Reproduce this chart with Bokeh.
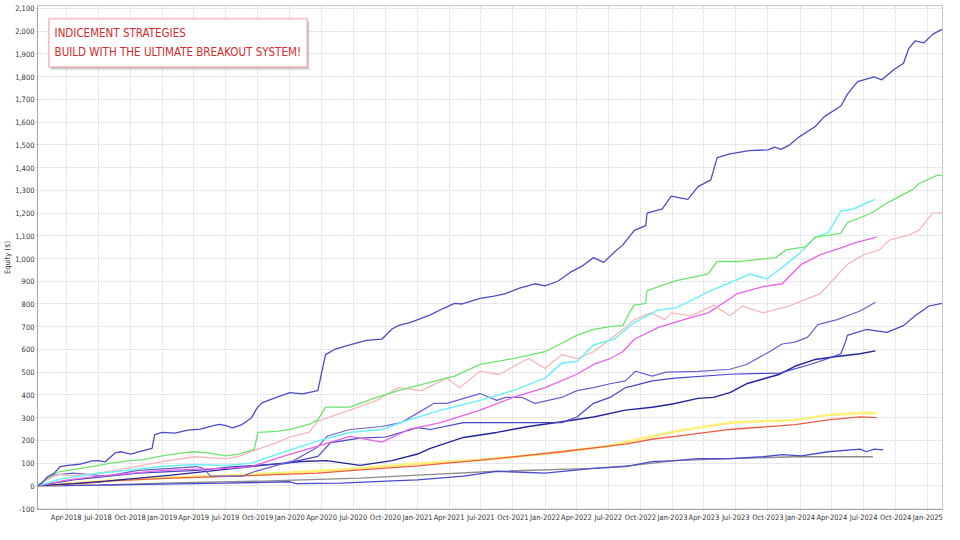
import datetime as dt
import pandas as pd
from bokeh.plotting import figure
from bokeh.models import (Range1d, FixedTicker, NumeralTickFormatter,
                          DatetimeTickFormatter, BoxAnnotation, Label)
from bokeh.embed import file_html
from bokeh.resources import INLINE

# ---------------- data: (decimal year, equity $) ----------------
top_series = [(2018.02, 0), (2018.05, 10), (2018.10, 40), (2018.15, 55), (2018.20, 85), (2018.26, 90),
              (2018.35, 95), (2018.45, 110), (2018.50, 111), (2018.55, 105), (2018.63, 145), (2018.68, 150),
              (2018.75, 140), (2018.85, 155), (2018.92, 165), (2018.94, 225), (2019.00, 235), (2019.10, 232),
              (2019.20, 245), (2019.30, 250), (2019.40, 265), (2019.45, 270), (2019.50, 265), (2019.55, 255),
              (2019.62, 268), (2019.70, 300), (2019.74, 340), (2019.78, 365), (2019.90, 390), (2020.00, 410),
              (2020.10, 405), (2020.22, 419), (2020.25, 500), (2020.28, 577), (2020.35, 600), (2020.47, 620),
              (2020.60, 640), (2020.72, 645), (2020.80, 690), (2020.85, 705), (2020.95, 720), (2021.10, 752),
              (2021.20, 780), (2021.29, 803), (2021.35, 800), (2021.49, 825), (2021.60, 835), (2021.69, 846),
              (2021.80, 870), (2021.92, 889), (2022.00, 880), (2022.10, 900), (2022.20, 940), (2022.30, 970),
              (2022.38, 1004), (2022.46, 983), (2022.54, 1026), (2022.61, 1060), (2022.70, 1124), (2022.79, 1145),
              (2022.80, 1200), (2022.92, 1218), (2022.99, 1274), (2023.12, 1260), (2023.20, 1316), (2023.30, 1346),
              (2023.35, 1444), (2023.45, 1460), (2023.60, 1475), (2023.75, 1478), (2023.80, 1490), (2023.85, 1480),
              (2023.92, 1500), (2023.99, 1534), (2024.12, 1581), (2024.19, 1624), (2024.32, 1671), (2024.37, 1722),
              (2024.45, 1778), (2024.58, 1799), (2024.64, 1786), (2024.73, 1829), (2024.81, 1859), (2024.85, 1923),
              (2024.90, 1957), (2024.97, 1949), (2025.04, 1987), (2025.11, 2008)]

green_series = [(2018.02, 0), (2018.10, 35), (2018.18, 60), (2018.26, 68), (2018.40, 80), (2018.50, 90),
                (2018.60, 100), (2018.75, 111), (2018.85, 115), (2019.00, 132), (2019.15, 145), (2019.25, 150),
                (2019.35, 145), (2019.50, 132), (2019.60, 140), (2019.72, 160), (2019.75, 235), (2019.90, 240),
                (2020.00, 248), (2020.15, 270), (2020.22, 290), (2020.28, 346), (2020.47, 346), (2020.68, 389),
                (2020.85, 419), (2021.08, 453), (2021.29, 483), (2021.49, 534), (2021.75, 560), (2022.00, 590),
                (2022.25, 662), (2022.38, 688), (2022.51, 700), (2022.61, 705), (2022.66, 760), (2022.70, 795),
                (2022.79, 803), (2022.80, 859), (2023.02, 902), (2023.28, 932), (2023.35, 987), (2023.53, 987),
                (2023.81, 1004), (2023.89, 1038), (2024.04, 1051), (2024.12, 1094), (2024.32, 1111), (2024.37, 1158),
                (2024.55, 1197), (2024.68, 1244), (2024.88, 1303), (2024.93, 1329), (2025.08, 1368), (2025.11, 1365)]

pink_series = [(2018.02, 0), (2018.10, 30), (2018.18, 50), (2018.30, 45), (2018.50, 56), (2018.75, 80),
               (2019.00, 107), (2019.25, 128), (2019.50, 120), (2019.60, 130), (2019.75, 162), (2019.90, 190),
               (2020.00, 215), (2020.15, 235), (2020.22, 285), (2020.47, 333), (2020.68, 376), (2020.85, 432),
               (2021.03, 419), (2021.23, 474), (2021.33, 432), (2021.49, 504), (2021.64, 491), (2021.87, 560),
               (2022.00, 517), (2022.13, 577), (2022.25, 560), (2022.38, 590), (2022.51, 645), (2022.61, 688),
               (2022.70, 731), (2022.83, 761), (2022.94, 731), (2022.99, 761), (2023.15, 748), (2023.32, 795),
               (2023.45, 748), (2023.55, 791), (2023.71, 761), (2023.91, 791), (2024.16, 846), (2024.37, 974),
               (2024.50, 1017), (2024.62, 1038), (2024.70, 1081), (2024.85, 1103), (2024.93, 1124), (2025.04, 1201),
               (2025.11, 1201)]

cyan_series = [(2018.02, 0), (2018.20, 30), (2018.50, 55), (2018.75, 70), (2019.00, 85), (2019.25, 94),
               (2019.50, 90), (2019.70, 100), (2019.96, 150), (2020.22, 198), (2020.47, 235), (2020.72, 248),
               (2020.93, 290), (2021.18, 333), (2021.49, 376), (2021.75, 419), (2022.00, 474), (2022.13, 540),
               (2022.25, 547), (2022.38, 620), (2022.54, 645), (2022.70, 718), (2022.89, 774), (2023.02, 782),
               (2023.15, 816), (2023.30, 859), (2023.43, 889), (2023.61, 932), (2023.74, 910), (2023.89, 974),
               (2024.01, 1030), (2024.12, 1094), (2024.22, 1115), (2024.32, 1209), (2024.42, 1218), (2024.52, 1244),
               (2024.59, 1260)]

magenta_series = [(2018.02, 0), (2018.25, 25), (2018.50, 43), (2018.75, 55), (2019.00, 68), (2019.50, 77),
                  (2019.70, 85), (2019.96, 132), (2020.22, 175), (2020.47, 218), (2020.72, 192), (2020.93, 248),
                  (2021.18, 278), (2021.49, 333), (2021.75, 389), (2022.00, 432), (2022.25, 491), (2022.38, 534),
                  (2022.51, 560), (2022.61, 590), (2022.70, 645), (2022.89, 697), (2023.09, 731), (2023.28, 761),
                  (2023.51, 846), (2023.71, 876), (2023.86, 889), (2024.01, 974), (2024.16, 1017), (2024.32, 1047),
                  (2024.42, 1068), (2024.60, 1094)]

slate_series = [(2018.02, 0), (2018.15, 47), (2018.30, 56), (2018.56, 43), (2018.81, 68), (2019.07, 77),
                (2019.27, 85), (2019.32, 77), (2019.38, 43), (2019.63, 43), (2019.73, 64), (2020.03, 111),
                (2020.22, 171), (2020.29, 218), (2020.47, 248), (2020.72, 261), (2020.87, 278), (2021.00, 320),
                (2021.13, 363), (2021.23, 363), (2021.49, 406), (2021.62, 376), (2021.69, 389), (2021.82, 389),
                (2021.92, 363), (2022.13, 389), (2022.25, 419), (2022.38, 432), (2022.51, 449), (2022.63, 462),
                (2022.71, 504), (2022.84, 483), (2022.95, 500), (2023.20, 504), (2023.45, 513), (2023.58, 534),
                (2023.76, 590), (2023.86, 624), (2023.96, 632), (2024.06, 654), (2024.14, 709), (2024.29, 731),
                (2024.47, 769), (2024.59, 808)]

blue_series = [(2018.02, 0), (2018.30, 26), (2018.81, 56), (2019.27, 68), (2019.57, 85), (2019.96, 98),
               (2020.22, 130), (2020.32, 190), (2020.55, 210), (2020.75, 215), (2021.00, 256), (2021.10, 248),
               (2021.36, 278), (2021.62, 278), (2021.87, 278), (2022.13, 278), (2022.25, 303), (2022.38, 363),
               (2022.51, 389), (2022.63, 432), (2022.69, 440), (2022.84, 462), (2023.02, 474), (2023.45, 491),
               (2023.84, 496), (2024.08, 534), (2024.22, 560), (2024.32, 581), (2024.36, 640), (2024.37, 662),
               (2024.52, 688), (2024.68, 675), (2024.81, 705), (2024.90, 748), (2025.01, 791), (2025.11, 803)]

navy_series = [(2018.02, 0), (2018.30, 10), (2018.56, 21), (2019.07, 47), (2019.57, 77), (2019.78, 90),
               (2020.09, 107), (2020.29, 111), (2020.55, 90), (2020.80, 111), (2021.00, 140), (2021.10, 165),
               (2021.36, 213), (2021.62, 235), (2021.87, 261), (2022.13, 282), (2022.38, 303), (2022.63, 333),
               (2022.84, 346), (2023.00, 360), (2023.20, 385), (2023.32, 389), (2023.45, 410), (2023.58, 449),
               (2023.71, 470), (2023.84, 491), (2023.96, 526), (2024.12, 556), (2024.27, 568), (2024.47, 581),
               (2024.59, 594)]

yellow_series = [(2018.02, 0), (2018.50, 20), (2019.00, 35), (2019.50, 45), (2020.00, 58), (2020.50, 75),
                 (2021.00, 98), (2021.50, 115), (2022.00, 140), (2022.50, 175), (2022.69, 200), (2023.02, 239),
                 (2023.45, 278), (2023.96, 290), (2024.22, 312), (2024.47, 320), (2024.60, 320)]

orange_series = [(2018.02, 0), (2018.50, 15), (2018.56, 21), (2019.07, 34), (2019.57, 43), (2020.22, 56),
                 (2020.50, 68), (2021.00, 88), (2021.62, 120), (2022.13, 150), (2022.63, 184), (2022.84, 205),
                 (2023.02, 218), (2023.45, 248), (2023.96, 269), (2024.22, 290), (2024.47, 303), (2024.60, 300)]

gray_series = [(2018.02, 0), (2018.56, 4), (2019.07, 13), (2019.78, 21), (2020.55, 34), (2021.00, 47),
               (2021.62, 64), (2022.38, 77), (2022.69, 90), (2023.02, 111), (2023.45, 120), (2023.96, 128),
               (2024.57, 128)]

lowblue_series = [(2018.02, 0), (2018.50, 3), (2019.00, 8), (2019.50, 12), (2020.00, 18), (2020.05, 10),
                  (2020.40, 12), (2020.80, 22), (2021.00, 26), (2021.36, 43), (2021.62, 64), (2022.00, 56),
                  (2022.38, 77), (2022.63, 85), (2022.84, 107), (2023.02, 111), (2023.20, 120), (2023.45, 120),
                  (2023.71, 128), (2023.86, 137), (2024.01, 132), (2024.22, 150), (2024.47, 162), (2024.52, 150),
                  (2024.58, 162), (2024.65, 158)]

x_ticks = list(pd.date_range("2018-04-01", "2025-01-01", freq="QS"))
y_ticks = list(range(-100, 2101, 100))

title_lines = ["INDICEMENT STRATEGIES", "BUILD WITH THE ULTIMATE BREAKOUT SYSTEM!"]
y_axis_title = "Equity ($)"

FONT = "DejaVu Sans Condensed, Liberation Sans, sans-serif"


def to_dt(t):
    y = int(t)
    a = dt.datetime(y, 1, 1)
    b = dt.datetime(y + 1, 1, 1)
    return a + (b - a) * (t - y)


def ms(t):
    return (to_dt(t) - dt.datetime(1970, 1, 1)).total_seconds() * 1000.0


p = figure(width=944, height=524, x_axis_type="datetime", output_backend="svg",
           toolbar_location=None,
           x_range=Range1d(ms(2018.021), ms(2025.115)), y_range=Range1d(-104, 2113),
           min_border_left=28, min_border_right=2, min_border_top=5, min_border_bottom=2)

p.background_fill_color = "white"
p.border_fill_color = "white"
p.outline_line_color = "#c8c8c8"

p.xaxis.ticker = FixedTicker(ticks=[(d - pd.Timestamp("1970-01-01")).total_seconds() * 1000 for d in x_ticks])
p.xaxis.formatter = DatetimeTickFormatter(days="%b-%Y", months="%b-%Y", years="%b-%Y")
p.yaxis.ticker = FixedTicker(ticks=y_ticks)
p.yaxis.formatter = NumeralTickFormatter(format="0,0")
p.yaxis.axis_label = y_axis_title

for ax in (p.xaxis, p.yaxis):
    ax.major_label_text_font = FONT
    ax.major_label_text_font_size = "7.5px"
    ax.major_label_text_color = "#333333"
    ax.axis_line_color = "#a8a8a8"
    ax.major_tick_line_color = "#a8a8a8"
    ax.major_tick_out = 1
    ax.major_tick_in = 0
    ax.minor_tick_line_color = None
    ax.major_label_standoff = 2
p.yaxis.axis_label_text_font = FONT
p.yaxis.axis_label_text_font_size = "7.5px"
p.yaxis.axis_label_text_font_style = "normal"
p.yaxis.axis_label_text_color = "#333333"
p.yaxis.axis_label_standoff = 0

p.xgrid.ticker = p.xaxis.ticker
p.ygrid.ticker = p.yaxis.ticker
for g in (p.xgrid, p.ygrid):
    g.grid_line_color = "#dcdce8"
    g.grid_line_dash = "2 1"
    g.grid_line_width = 1

styles = [
    (gray_series, "#8c8c8c", 1.4),
    (lowblue_series, "#4a4ad0", 1.3),
    (yellow_series, "#fff07a", 2.6),
    (orange_series, "#ee5c44", 1.3),
    (navy_series, "#24249e", 1.4),
    (blue_series, "#4646c8", 1.2),
    (slate_series, "#6a62d2", 1.2),
    (magenta_series, "#ea62ea", 1.3),
    (pink_series, "#f6b8b8", 1.3),
    (cyan_series, "#6ef0f6", 1.5),
    (green_series, "#6ee46e", 1.3),
    (top_series, "#4c4cc8", 1.3),
]
for series, color, w in styles:
    xs = [to_dt(t) for t, _ in series]
    ys = [v for _, v in series]
    p.line(xs, ys, line_color=color, line_width=w)

# title box
p.add_layout(BoxAnnotation(left=ms(2018.125), right=ms(2020.152), bottom=1830, top=2043,
                           fill_color="#a0a0a0", fill_alpha=0.45, line_alpha=0))
p.add_layout(BoxAnnotation(left=ms(2018.11), right=ms(2020.137), bottom=1842, top=2055,
                           fill_color="white", fill_alpha=1.0, line_color="#e03a3a", line_width=1.8))
for txt, yv in zip(title_lines, [1991, 1910]):
    p.add_layout(Label(x=ms(2018.155), y=yv, text=txt, text_font=FONT,
                       text_font_size="11.5px", text_color="#d42a2a", text_baseline="middle"))

open("out.html", "w").write(file_html(p, INLINE))
